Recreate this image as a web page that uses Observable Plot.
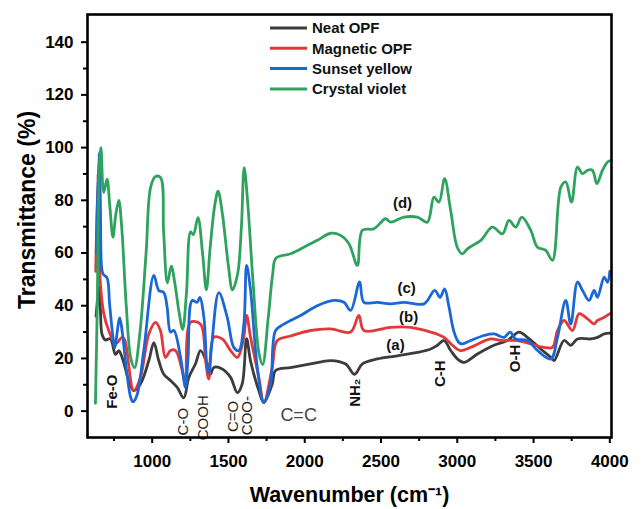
<!DOCTYPE html>
<html>
<head>
<meta charset="utf-8">
<script src="https://cdn.jsdelivr.net/npm/d3@7"></script>
<script src="https://cdn.jsdelivr.net/npm/@observablehq/plot@0.6"></script>
<style>
  html, body { margin: 0; padding: 0; background: #fff; }
  #chart { width: 644px; height: 509px; }
</style>
</head>
<body>
<div id="chart"></div>
<script>
// ---- Data ----
const seriesNames = ["Neat OPF", "Magnetic OPF", "Sunset yellow", "Crystal violet"];
const seriesColors = ["#3c3c3c", "#e2383a", "#1c67d6", "#2fa25e"];

const wavenumberTicks = [1000, 1500, 2000, 2500, 3000, 3500, 4000];
const wavenumberMinorTicks = [750, 1250, 1750, 2250, 2750, 3250, 3750];
const transmittanceTicks = [0, 20, 40, 60, 80, 100, 120, 140];
const transmittanceMinorTicks = [10, 30, 50, 70, 90, 110, 130];

const neatOPF = [[632,36],[645,44],[653,47],[661,38],[672,29],[694,27],[726,27.5],[759,21.5],[781,23],[803,20.4],[847,11.6],[879,7.8],[923,10.3],[978,19.2],[1011,26],[1043,19.2],[1076,14],[1120,11.6],[1164,9],[1207,5],[1240,12.8],[1284,18],[1317,23],[1361,18],[1382,14],[1404,16.6],[1459,16],[1514,12.8],[1558,7],[1590,10.3],[1619,27.5],[1645,19],[1699,7.8],[1732,3.3],[1787,10.3],[1809,15.4],[1907,16.5],[2038,17.9],[2170,19.2],[2268,17.9],[2327,14],[2378,17.9],[2476,19.8],[2607,21],[2738,22.3],[2826,23.6],[2870,25],[2913,26.8],[2957,23],[3001,19.8],[3044,18.5],[3132,21.7],[3241,25],[3329,26.8],[3405,30],[3460,28],[3547,23.6],[3613,20.4],[3635,19.2],[3700,26.8],[3744,25],[3788,27.4],[3876,27.4],[3919,28],[3963,29.3],[4000,29.6]];

const magneticOPF = [[630,53],[645,90],[652,62],[661,48],[683,37],[715,30.6],[759,25.5],[803,28],[820,27],[879,7.8],[923,12.8],[978,29.3],[1022,33.7],[1054,30.6],[1087,20.4],[1120,23],[1153,23],[1197,15.4],[1218,10.3],[1251,33.7],[1317,33],[1350,19.2],[1371,12.2],[1404,28],[1459,27.4],[1514,23],[1558,20.4],[1597,26.8],[1619,36.3],[1645,28],[1699,12.8],[1732,3.3],[1787,16.6],[1820,26.8],[1907,28.5],[2038,30.6],[2170,31.2],[2301,30],[2355,36.3],[2388,30.6],[2563,31.8],[2694,31.8],[2826,30],[2913,28],[2968,25],[3022,23],[3088,24.2],[3219,27.4],[3285,26.8],[3394,26.8],[3482,25.5],[3569,24.2],[3624,24.2],[3657,30.6],[3700,34.4],[3755,30.6],[3799,37],[3854,35],[3897,33.1],[3919,34.4],[3963,35.6],[4000,37]];

const sunsetYellow = [[634,60],[651,98],[660,80],[668,55],[678,52],[704,50.6],[721,40.5],[743,28],[754,24],[787,35.4],[803,30.4],[835,14],[860,5],[875,3.5],[900,6],[945,23],[1011,51.5],[1043,45.8],[1076,45],[1098,39.4],[1120,30],[1142,30.6],[1186,20.4],[1218,9],[1235,20],[1262,42],[1295,41.3],[1312,43.2],[1339,35.6],[1361,16],[1371,14.5],[1390,25],[1437,45],[1492,35.6],[1535,24.2],[1568,23],[1601,33],[1619,55.3],[1645,45.8],[1689,16.6],[1732,3.3],[1776,10.3],[1809,30.6],[1863,33],[1973,36.3],[2082,40],[2191,42],[2257,41.3],[2301,38.2],[2360,49],[2388,41.3],[2476,41.3],[2563,40.7],[2650,41.3],[2782,40.7],[2852,45.8],[2887,43.2],[2917,46.4],[2946,39.4],[2979,30],[3011,26],[3034,25.5],[3088,26.8],[3175,28.7],[3241,29.3],[3307,28],[3346,30],[3383,27.4],[3460,26.8],[3526,23],[3613,19.8],[3657,28],[3711,42],[3744,33],[3788,49],[3821,45.8],[3864,42],[3897,45.8],[3919,43.2],[3963,50.8],[3985,48.9],[4000,53]];

const crystalViolet = [[628,3],[640,40],[652,90],[664,100],[682,83],[704,88],[722,78],[743,66],[760,74],[781,80],[800,70],[830,40],[860,20],[884,16.5],[920,30],[960,60],[990,85],[1022,89],[1055,88.6],[1075,68],[1100,48.7],[1125,55],[1150,48],[1175,38],[1200,31],[1225,45],[1252,68],[1270,67],[1300,73.4],[1330,60],[1355,46],[1380,62],[1410,78],[1432,83.5],[1460,75],[1500,55],[1526,46],[1560,52],[1585,70],[1603,92.4],[1625,80],[1660,50],[1700,22],[1724,17.7],[1760,35],[1790,52],[1811,58],[1907,59.7],[1995,62.2],[2082,64.8],[2170,67.5],[2235,66.7],[2290,63.5],[2345,55.3],[2378,68.6],[2454,69.2],[2530,73],[2563,71.7],[2650,73.6],[2738,73.6],[2804,71.7],[2847,81.2],[2880,79.3],[2917,88.2],[2957,76],[3001,62],[3034,59.7],[3066,61.6],[3154,64.8],[3230,69.8],[3296,67.3],[3339,72.4],[3383,69.8],[3423,73.6],[3482,68.6],[3526,62.2],[3580,61],[3624,57.2],[3679,85],[3711,87],[3749,79.3],[3788,92.6],[3821,90.1],[3854,91.4],[3886,91.4],[3915,86.3],[3952,91.4],[3985,94.5],[4000,95]];

// Band assignment labels (rotated), anchored at wavenumber / transmittance
const bandLabels = ["Fe-O", "C-O", "COOH", "C=O", "COO-", "NH\u2082", "C-H", "O-H"];
const bandX = [740, 1205, 1336, 1533, 1625, 2333, 2890, 3382];
const bandY = [7.4, -4, -2.5, -2, -1.7, 7, 14.2, 20];
const bandBold = [true, false, false, false, false, true, true, true];

const curveLabels = ["(a)", "(b)", "(c)", "(d)"];
const curveLabelX = [2595, 2681, 2668, 2641];
const curveLabelY = [24.9, 35.5, 46.5, 78.8];

// ---- Build tables ----
const seriesData = [neatOPF, magneticOPF, sunsetYellow, crystalViolet];
const rows = [];
seriesData.forEach((arr, i) => arr.forEach(([x, y]) => rows.push({series: seriesNames[i], x, y})));
const bands = bandLabels.map((t, i) => ({t, x: bandX[i], y: bandY[i], bold: bandBold[i]}));
const curveTags = curveLabels.map((t, i) => ({t, x: curveLabelX[i], y: curveLabelY[i]}));

const font = "'Liberation Sans', Arial, Helvetica, sans-serif";

const chart = Plot.plot({
  width: 644,
  height: 509,
  marginLeft: 87,
  marginRight: 33,
  marginTop: 14,
  marginBottom: 72,
  style: {fontFamily: font, background: "#fff", color: "#000"},
  x: {domain: [576, 4011]},
  y: {domain: [-10, 150.5]},
  color: {domain: seriesNames, range: seriesColors},
  marks: [
    Plot.line(rows, {x: "x", y: "y", z: "series", stroke: "series", strokeWidth: 2.8, curve: "catmull-rom", strokeLinejoin: "round"}),
    Plot.text(bands.filter(d => d.bold), {x: "x", y: "y", text: "t", rotate: -90, fontSize: 15, fontWeight: "bold", fill: "#111"}),
    Plot.text(bands.filter(d => !d.bold), {x: "x", y: "y", text: "t", rotate: -90, fontSize: 15, fill: "#222"}),
    Plot.text(["C=C"], {x: 1960, y: -1.7, text: d => d, fontSize: 18, fill: "#444"}),
    Plot.text(curveTags, {x: "x", y: "y", text: "t", fontSize: 15, fontWeight: "bold", fill: "#111"}),
    Plot.frame({stroke: "#000", strokeWidth: 2.6}),
    Plot.axisX({ticks: wavenumberTicks, tickSize: 6, tickPadding: 11, strokeWidth: 2, fontSize: 17, fontWeight: "bold", tickFormat: d => String(d), label: null}),
    Plot.axisX({ticks: wavenumberMinorTicks, tickSize: 4, strokeWidth: 2, text: null, label: null}),
    Plot.axisY({ticks: transmittanceTicks, tickSize: 6, tickPadding: 8, strokeWidth: 2, fontSize: 17, fontWeight: "bold", tickFormat: d => String(d), label: null}),
    Plot.axisY({ticks: transmittanceMinorTicks, tickSize: 4, strokeWidth: 2, text: null, label: null}),
    Plot.text(["Wavenumber (cm\u207B\u00B9)"], {frameAnchor: "bottom", dy: 58, text: d => d, fontSize: 21.5, fontWeight: "bold", lineAnchor: "middle", textAnchor: "middle"}),
    Plot.text(["Transmittance (%)"], {frameAnchor: "left", dx: -60, dy: -16, rotate: -90, text: d => d, fontSize: 23, letterSpacing: 1.2, fontWeight: "bold", lineAnchor: "middle", textAnchor: "middle"})
  ]
});

document.getElementById("chart").appendChild(chart);

// Legend inside the plot frame (top)
const svg = d3.select(chart);
const lg = svg.append("g").attr("font-family", font).attr("font-size", 15)
  .attr("font-weight", "bold").attr("text-anchor", "start");
seriesNames.forEach((name, i) => {
  const y = 28 + i * 20.3;
  lg.append("line").attr("x1", 270).attr("x2", 307).attr("y1", y).attr("y2", y)
    .attr("stroke", seriesColors[i]).attr("stroke-width", 3);
  lg.append("text").attr("x", 312).attr("y", y).attr("dy", "0.35em").attr("fill", "#111").text(name);
});
</script>
</body>
</html>
